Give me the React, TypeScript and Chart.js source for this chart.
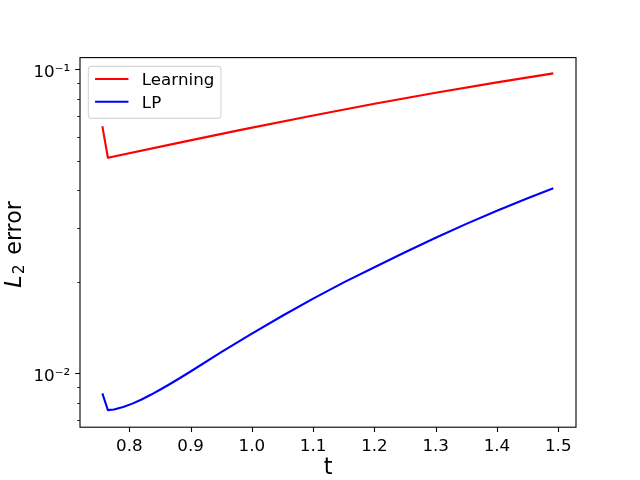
import React, { useEffect, useRef } from 'react';
import { Chart, registerables } from 'chart.js';

Chart.register(...registerables);

// ---- data ----
const SERIES_NAMES = ['Learning', 'LP'];
const SERIES_COLORS = ['#ff0000', '#0000ff'];

const T_LEARNING = [0.756, 0.765, 0.88, 0.98, 1.1, 1.2, 1.3, 1.4, 1.492];
const LEARNING = [0.065, 0.0512, 0.0573, 0.0631, 0.0705, 0.077, 0.0838, 0.0906, 0.097];

const T_LP = [
  0.756, 0.765, 0.775, 0.79, 0.805, 0.82, 0.835, 0.85, 0.865, 0.88, 0.9, 0.95, 1.0,
  1.05, 1.1, 1.15, 1.2, 1.25, 1.3, 1.35, 1.4, 1.45, 1.492,
];
const LP = [
  0.00859, 0.00757, 0.0076, 0.00775, 0.00795, 0.0082, 0.0085, 0.00883, 0.00919,
  0.00958, 0.01014, 0.01175, 0.01352, 0.01547, 0.0176, 0.01991, 0.02234, 0.02503,
  0.02793, 0.03101, 0.03428, 0.03767, 0.04064,
];

const X_TICKS = [0.8, 0.9, 1.0, 1.1, 1.2, 1.3, 1.4, 1.5];
const Y_MAJOR = [0.01, 0.1];
const Y_MINOR = [0.007, 0.008, 0.009, 0.02, 0.03, 0.04, 0.05, 0.06, 0.07, 0.08, 0.09];
const Y_MAJOR_LABELS = ['10⁻²', '10⁻¹'];

const X_TITLE = 't';
const Y_TITLE_BASE = 'L';
const Y_TITLE_SUB = '2';
const Y_TITLE_REST = ' error';

const FONT = 'DejaVu Sans';

const mplPlugin = {
  id: 'mplDecor',
  afterDatasetsDraw(chart: any) {
    const { ctx, chartArea: a } = chart;
    const xs = chart.scales.x;
    const ys = chart.scales.y;
    ctx.save();
    // spines
    ctx.strokeStyle = '#000';
    ctx.lineWidth = 1.1;
    ctx.strokeRect(a.left, a.top, a.right - a.left, a.bottom - a.top);
    // major ticks
    ctx.beginPath();
    for (const v of X_TICKS) {
      const px = Math.round(xs.getPixelForValue(v)) + 0.5;
      ctx.moveTo(px, a.bottom);
      ctx.lineTo(px, a.bottom + 4.86);
    }
    for (const v of Y_MAJOR) {
      const py = Math.round(ys.getPixelForValue(v)) + 0.5;
      ctx.moveTo(a.left, py);
      ctx.lineTo(a.left - 4.86, py);
    }
    ctx.stroke();
    // minor ticks
    ctx.lineWidth = 0.83;
    ctx.beginPath();
    for (const v of Y_MINOR) {
      const py = Math.round(ys.getPixelForValue(v)) + 0.5;
      ctx.moveTo(a.left, py);
      ctx.lineTo(a.left - 2.78, py);
    }
    ctx.stroke();

    // y-axis title with italic L and subscript 2
    const cy = (a.top + a.bottom) / 2 + 2;
    ctx.save();
    ctx.translate(20.5, cy);
    ctx.rotate(-Math.PI / 2);
    ctx.fillStyle = '#000';
    ctx.textBaseline = 'alphabetic';
    ctx.textAlign = 'left';
    const fBase = `italic 22.2px "${FONT}"`;
    const fSub = `15.5px "${FONT}"`;
    const fRest = `22.2px "${FONT}"`;
    ctx.font = fBase;
    const wL = ctx.measureText(Y_TITLE_BASE).width;
    ctx.font = fSub;
    const w2 = ctx.measureText(Y_TITLE_SUB).width;
    ctx.font = fRest;
    const wR = ctx.measureText(Y_TITLE_REST).width;
    const gap1 = 1.2;
    const gap2 = 2.5;
    let sx = -(wL + gap1 + w2 + gap2 + wR) / 2;
    ctx.font = fBase;
    ctx.fillText(Y_TITLE_BASE, sx, 0);
    sx += wL + gap1;
    ctx.font = fSub;
    ctx.fillText(Y_TITLE_SUB, sx, 3.5);
    sx += w2 + gap2;
    ctx.font = fRest;
    ctx.fillText(Y_TITLE_REST, sx, 0);
    ctx.restore();

    // legend
    const fs = 16.7;
    const bx = a.left + 8.35;
    const by = a.top + 8.8;
    ctx.font = `${fs}px "${FONT}"`;
    let maxW = 0;
    chart.data.datasets.forEach((d: any) => {
      maxW = Math.max(maxW, ctx.measureText(d.label).width);
    });
    const bw = 6.7 + 33.4 + 13.4 + maxW + 6.7;
    const bh = 52;
    ctx.beginPath();
    (ctx as any).roundRect(bx, by, bw, bh, 3.3);
    ctx.fillStyle = 'rgba(255,255,255,0.8)';
    ctx.fill();
    ctx.strokeStyle = 'rgba(204,204,204,0.8)';
    ctx.lineWidth = 1.1;
    ctx.stroke();
    chart.data.datasets.forEach((d: any, i: number) => {
      const ly = by + 12.6 + i * 22.8;
      ctx.beginPath();
      ctx.strokeStyle = d.borderColor;
      ctx.lineWidth = 2.08;
      ctx.moveTo(bx + 6.7, ly);
      ctx.lineTo(bx + 6.7 + 33.4, ly);
      ctx.stroke();
      ctx.fillStyle = '#000';
      ctx.textBaseline = 'alphabetic';
      ctx.textAlign = 'left';
      ctx.fillText(d.label, bx + 6.7 + 33.4 + 13.4, ly + 6.2);
    });
    ctx.restore();
  },
};

export default function App() {
  const ref = useRef<HTMLCanvasElement | null>(null);

  useEffect(() => {
    if (!ref.current) return;
    const chart = new Chart(ref.current, {
      type: 'line',
      data: {
        datasets: [
          {
            label: SERIES_NAMES[0],
            data: T_LEARNING.map((t, i) => ({ x: t, y: LEARNING[i] })),
            borderColor: SERIES_COLORS[0],
            borderWidth: 2.08,
            pointRadius: 0,
            fill: false,
            tension: 0,
            borderJoinStyle: 'round',
          },
          {
            label: SERIES_NAMES[1],
            data: T_LP.map((t, i) => ({ x: t, y: LP[i] })),
            borderColor: SERIES_COLORS[1],
            borderWidth: 2.08,
            pointRadius: 0,
            fill: false,
            tension: 0,
            borderJoinStyle: 'round',
          },
        ],
      },
      options: {
        responsive: false,
        animation: false,
        layout: { padding: { top: 57.6, right: 64, left: 0, bottom: 0 } },
        plugins: { legend: { display: false }, tooltip: { enabled: false } },
        scales: {
          x: {
            type: 'linear',
            min: 0.7195,
            max: 1.529,
            grid: { display: false, drawTicks: false },
            border: { display: false },
            afterBuildTicks: (s: any) => {
              s.ticks = X_TICKS.map((v) => ({ value: v }));
            },
            afterFit: (s: any) => {
              s.height = 52.8;
            },
            ticks: {
              autoSkip: false,
              maxRotation: 0,
              padding: 9.5,
              color: '#000',
              font: { family: FONT, size: 16.7 },
              callback: (v: any) => Number(v).toFixed(1),
            },
            title: {
              display: true,
              text: X_TITLE,
              color: '#000',
              font: { family: FONT, size: 22.2, lineHeight: 1 },
              padding: { top: 0, bottom: 0.5 },
            },
          },
          y: {
            type: 'logarithmic',
            min: 0.00665,
            max: 0.1093,
            grid: { display: false, drawTicks: false },
            border: { display: false },
            afterBuildTicks: (s: any) => {
              s.ticks = [...Y_MINOR, ...Y_MAJOR]
                .sort((p, q) => p - q)
                .map((v) => ({ value: v }));
            },
            afterFit: (s: any) => {
              s.width = 80;
            },
            ticks: {
              autoSkip: false,
              padding: 9.8,
              color: '#000',
              labelOffset: 3,
              font: { family: FONT, size: 16.7 },
              callback: (v: any) => {
                const n = Number(v);
                const idx = Y_MAJOR.findIndex((m) => Math.abs(m - n) < 1e-9);
                return idx >= 0 ? Y_MAJOR_LABELS[idx] : '';
              },
            },
          },
        },
      },
      plugins: [mplPlugin],
    } as any);
    return () => chart.destroy();
  }, []);

  return (
    <div style={{ position: 'absolute', left: 0, top: 0, width: 640, height: 480, background: '#fff' }}>
      <canvas ref={ref} width={640} height={480} />
    </div>
  );
}
